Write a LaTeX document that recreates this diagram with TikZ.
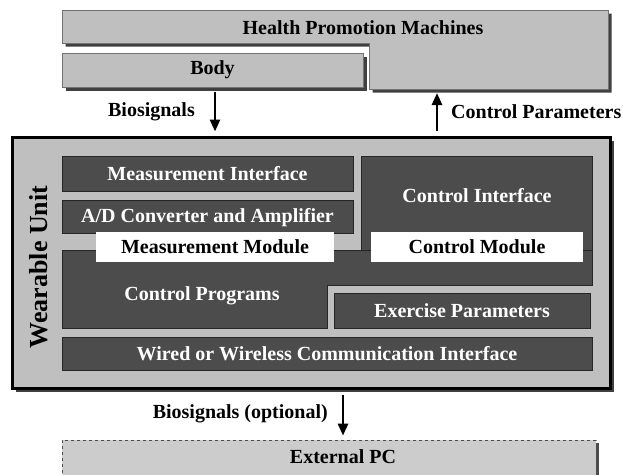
\documentclass[tikz,border=0pt]{standalone}
\usepackage{fontspec}
\setmainfont{Liberation Serif}
\usetikzlibrary{shadows, arrows.meta, calc}
\definecolor{paleGray}{gray}{0.75}
\definecolor{pcGray}{gray}{0.8}
\definecolor{deepGray}{gray}{0.3}

\begin{document}
\begin{tikzpicture}[x=1pt, y=-1pt,
  pale/.style={fill=paleGray, draw=black!55, line width=0.6pt,
               drop shadow={shadow xshift=3.5pt, shadow yshift=-3.5pt,
                            opacity=1, fill=black!75}},
  block/.style={draw=black!85, fill=deepGray, line width=0.6pt,
                inner sep=0pt},
  tag/.style={fill=white, inner sep=0pt, font=\bfseries\fontsize{20}{24}\selectfont},
  lbl/.style={font=\bfseries\fontsize{20}{24}\selectfont, inner sep=0pt},
  wlbl/.style={lbl, text=white},
  flow/.style={line width=2.6pt, -{Triangle[length=12pt, width=10pt]},
               shorten <=5pt, shorten >=4pt},
]
  \useasboundingbox (0,0) rectangle (623,474);

  % top: machines and body
  \path[pale] (62,10) -- (608,10) -- (608,89) -- (369,89) -- (369,43)
              -- (62,43) -- cycle;
  \node[lbl] (hpm) at (363,28) {Health Promotion Machines};
  \node[pale, minimum width=301pt, minimum height=34pt, lbl] (body) at (212.5,70) {Body};

  % wearable unit
  \node[pale, draw=black, line width=3pt, minimum width=598pt,
        minimum height=251pt, inner sep=0pt] (unit) at (311,262.5) {};
  \node[lbl, rotate=90, font=\bfseries\fontsize{26}{30}\selectfont] (wu) at (39,267) {Wearable Unit};

  \node[block, minimum width=291pt, minimum height=35pt] (measif) at (207.5,173.5) {};
  \node[wlbl] at (measif) {Measurement Interface};
  \node[block, minimum width=291pt, minimum height=33pt] (adconv) at (207.5,216.5) {};
  \node[wlbl] at (207.5,218) {A/D Converter and Amplifier};
  \node[block, minimum width=231pt, minimum height=94pt] (ctrlif) at (476.5,203) {};
  \node[wlbl] at (477,196) {Control Interface};

  \path[block] (62,250) -- (592,250) -- (592,285) -- (327,285) -- (327,328)
               -- (62,328) -- cycle;
  \node[wlbl] (progs) at (202,296) {Control Programs};
  \node[block, minimum width=256pt, minimum height=35pt] (exer) at (462,310.5) {};
  \node[wlbl] at (exer) {Exercise Parameters};
  \node[block, minimum width=530pt, minimum height=33pt] (comm) at (327,353.5) {};
  \node[wlbl] at (comm) {Wired or Wireless Communication Interface};

  \node[tag, minimum width=238pt, minimum height=30pt] (measmod) at (215,247) {Measurement Module};
  \node[tag, minimum width=212pt, minimum height=30pt] (ctrlmod) at (477,247) {Control Module};

  % external pc
  \node[fill=pcGray, draw=black!70, dashed, line width=0.8pt,
        minimum width=534pt, minimum height=42pt,
        drop shadow={shadow xshift=3pt, shadow yshift=-3pt, opacity=1, fill=black!70}] (pc) at (329,461) {};
  \node[lbl] at (343,457) {External PC};

  % signal arrows
  \coordinate (bioX) at (215,0);
  \coordinate (cpX) at (437,0);
  \coordinate (optX) at (343,0);
  \coordinate (hpmFoot) at (437,89);
  \draw[flow] (body.south -| bioX) -- (unit.north -| bioX);
  \draw[flow] (unit.north -| cpX) -- (hpmFoot);
  \draw[flow] (unit.south -| optX) -- (pc.north -| optX);
  \node[lbl, anchor=east] (bio) at (195,112) {Biosignals};
  \node[lbl, anchor=west] (cp) at (451,112) {Control Parameters};
  \node[lbl, anchor=east] (opt) at (328,414) {Biosignals (optional)};
\end{tikzpicture}
\end{document}
